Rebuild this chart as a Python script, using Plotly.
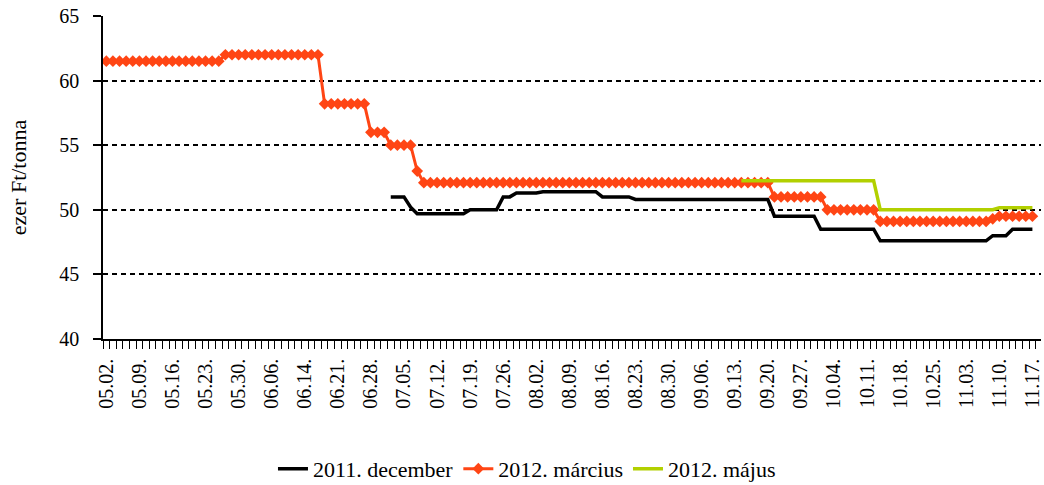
import pandas as pd
import plotly.graph_objects as go

# Trading days (Hungarian exchange), 2011.05.02 - 2011.11.17
holidays = ["2011-06-13", "2011-10-31", "2011-11-01"]
days = pd.bdate_range("2011-05-02", "2011-11-17", freq="C", holidays=holidays)
dates = [d.strftime("%m.%d.") for d in days]
tick_idx = list(range(0, len(dates), 5))
tick_labels = [dates[i] for i in tick_idx]

series_names = ["2011. december", "2012. március", "2012. május"]

dec = [None] * 43 + [
    51.0, 51.0, 51.0, 50.2, 49.7, 49.7, 49.7,
    49.7, 49.7, 49.7, 49.7, 49.7, 50.0, 50.0, 50.0, 50.0, 50.0,
    51.0, 51.0, 51.3, 51.3, 51.3, 51.3, 51.4, 51.4, 51.4, 51.4,
    51.4, 51.4, 51.4, 51.4, 51.4, 51.0, 51.0, 51.0, 51.0, 51.0,
    50.8, 50.8, 50.8, 50.8, 50.8, 50.8, 50.8, 50.8, 50.8, 50.8,
    50.8, 50.8, 50.8, 50.8, 50.8, 50.8, 50.8, 50.8, 50.8, 50.8,
    50.8, 49.5, 49.5, 49.5, 49.5, 49.5, 49.5, 49.5, 48.5, 48.5,
    48.5, 48.5, 48.5, 48.5, 48.5, 48.5, 48.5, 47.6, 47.6, 47.6,
    47.6, 47.6, 47.6, 47.6, 47.6, 47.6, 47.6, 47.6, 47.6, 47.6,
    47.6, 47.6, 47.6, 47.6, 48.0, 48.0, 48.0, 48.5, 48.5, 48.5,
    48.5,
]

marc = [
    61.5, 61.5, 61.5, 61.5, 61.5, 61.5, 61.5, 61.5, 61.5, 61.5,
    61.5, 61.5, 61.5, 61.5, 61.5, 61.5, 61.5, 61.5, 62.0, 62.0,
    62.0, 62.0, 62.0, 62.0, 62.0, 62.0, 62.0, 62.0, 62.0, 62.0,
    62.0, 62.0, 62.0, 58.2, 58.2, 58.2, 58.2, 58.2, 58.2, 58.2,
    56.0, 56.0, 56.0, 55.0, 55.0, 55.0, 55.0, 53.0, 52.1, 52.1,
    52.1, 52.1, 52.1, 52.1, 52.1, 52.1, 52.1, 52.1, 52.1, 52.1,
    52.1, 52.1, 52.1, 52.1, 52.1, 52.1, 52.1, 52.1, 52.1, 52.1,
    52.1, 52.1, 52.1, 52.1, 52.1, 52.1, 52.1, 52.1, 52.1, 52.1,
    52.1, 52.1, 52.1, 52.1, 52.1, 52.1, 52.1, 52.1, 52.1, 52.1,
    52.1, 52.1, 52.1, 52.1, 52.1, 52.1, 52.1, 52.1, 52.1, 52.1,
    52.1, 51.0, 51.0, 51.0, 51.0, 51.0, 51.0, 51.0, 51.0, 50.0,
    50.0, 50.0, 50.0, 50.0, 50.0, 50.0, 50.0, 49.1, 49.1, 49.1,
    49.1, 49.1, 49.1, 49.1, 49.1, 49.1, 49.1, 49.1, 49.1, 49.1,
    49.1, 49.1, 49.1, 49.1, 49.3, 49.5, 49.5, 49.5, 49.5, 49.5,
    49.5,
]

maj = [None] * 96 + [
    52.25, 52.25, 52.25, 52.25,
    52.25, 52.25, 52.25, 52.25, 52.25, 52.25, 52.25, 52.25, 52.25, 52.25,
    52.25, 52.25, 52.25, 52.25, 52.25, 52.25, 52.25, 50.0, 50.0, 50.0,
    50.0, 50.0, 50.0, 50.0, 50.0, 50.0, 50.0, 50.0, 50.0, 50.0,
    50.0, 50.0, 50.0, 50.0, 50.0, 50.15, 50.15, 50.15, 50.15, 50.15,
    50.15,
]

x = list(range(len(dates)))
FONT = "Liberation Serif, Times New Roman, DejaVu Serif, serif"

fig = go.Figure()
fig.add_trace(go.Scatter(x=x, y=dec, name=series_names[0], mode="lines",
                         line=dict(color="black", width=3.5)))
fig.add_trace(go.Scatter(x=x, y=marc, name=series_names[1], mode="lines+markers",
                         line=dict(color="#FF4514", width=3),
                         marker=dict(symbol="diamond", size=9, color="#FF4514")))
fig.add_trace(go.Scatter(x=x, y=maj, name=series_names[2], mode="lines",
                         line=dict(color="#B2D000", width=3.5)))

fig.update_layout(
    width=1044, height=485,
    template="none",
    paper_bgcolor="white", plot_bgcolor="white",
    margin=dict(l=103, r=3, t=16, b=146, autoexpand=False),
    font=dict(family=FONT, size=20, color="black"),
    showlegend=True,
    legend=dict(orientation="h", x=0.452, xanchor="center", y=-0.402, yanchor="middle",
                font=dict(family=FONT, size=22), itemwidth=30, tracegroupgap=0),
    xaxis=dict(
        range=[-0.5, len(dates) + 0.3],
        tickmode="array", tickvals=tick_idx, ticktext=tick_labels,
        tickangle=-90, ticks="", showgrid=False, zeroline=False,
        showline=True, linecolor="black", linewidth=1.5,
        tickfont=dict(family=FONT, size=20),
        ticklabelstandoff=10, ticklabeloverflow="allow",
        minor=dict(tickmode="linear", tick0=-0.5, dtick=1, ticks="outside",
                   ticklen=8, tickcolor="black", tickwidth=1.2, showgrid=False),
        automargin=False,
    ),
    yaxis=dict(
        range=[40, 65], tick0=40, dtick=5, ticks="outside", ticklen=8,
        tickcolor="black", tickwidth=1.5,
        showline=True, linecolor="black", linewidth=1.5,
        showgrid=True, gridcolor="black", gridwidth=1.5, griddash="5px,4px",
        zeroline=False,
        tickfont=dict(family=FONT, size=20),
        ticklabelstandoff=10,
        title=dict(text="ezer Ft/tonna", font=dict(family=FONT, size=22), standoff=27),
        automargin=False,
    ),
)

fig.write_html(
    "out.html",
    config={"displayModeBar": False},
    post_script="document.body.style.margin='0';document.body.style.overflow='hidden';",
)
